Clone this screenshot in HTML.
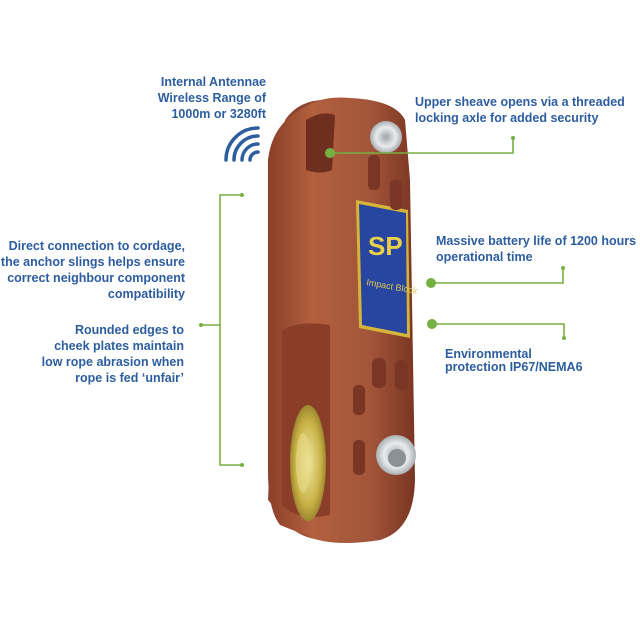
<!DOCTYPE html>
<html><head><style>
body{margin:0;width:640px;height:640px;background:#fff;overflow:hidden;position:relative;font-family:"Liberation Sans",sans-serif}
.t{position:absolute;color:#2c5d9f;font-size:12.5px;line-height:16px;font-weight:bold;white-space:nowrap}
</style></head><body>
<svg width="640" height="640" style="position:absolute;left:0;top:0">
<defs>
<linearGradient id="cu" x1="0" x2="1"><stop offset="0" stop-color="#8a3f28"/><stop offset=".3" stop-color="#b2603e"/><stop offset=".7" stop-color="#a2553a"/><stop offset="1" stop-color="#7a3522"/></linearGradient>
<radialGradient id="gold" cx=".5" cy=".5" r=".6"><stop offset="0" stop-color="#f2e7a0"/><stop offset=".6" stop-color="#c8b248"/><stop offset="1" stop-color="#7d6a1c"/></radialGradient>
<radialGradient id="sil" cx=".5" cy=".5" r=".6"><stop offset="0" stop-color="#9aa3aa"/><stop offset=".5" stop-color="#e8ecee"/><stop offset="1" stop-color="#8a8f92"/></radialGradient>
</defs>
<path d="M285 120 Q300 98 330 100 L360 102 L350 540 Q300 545 285 520 L268 500 Z" fill="#8e4630"/>
<path d="M300 110 Q320 95 350 98 Q395 100 405 120 L410 180 L415 480 Q414 530 380 540 Q330 548 305 535 L280 525 Q268 510 268 470 L268 160 Q272 125 300 110 Z" fill="url(#cu)"/>
<path d="M306 120 Q322 110 335 115 L332 170 Q320 175 306 170 Z" fill="#6e2f1e"/>
<path d="M282 330 Q300 320 330 325 L330 515 Q300 522 282 505 Z" fill="#8a3e28"/>
<ellipse cx="308" cy="463" rx="18" ry="58" fill="url(#gold)"/>
<ellipse cx="303" cy="463" rx="7" ry="30" fill="#e8dc88" opacity=".6"/>
<circle cx="386" cy="137" r="16" fill="url(#sil)"/>
<circle cx="396" cy="455" r="20" fill="url(#sil)"/>
<circle cx="397" cy="458" r="9" fill="#8b9297"/>
<path d="M356 200 L408 210 L410 338 L359 328 Z" fill="#d6b43a"/>
<path d="M359 204 L406 213 L407 334 L362 325 Z" fill="#2846a0"/>
<text x="368" y="255" fill="#e8d04a" font-size="26" font-weight="bold" font-family="Liberation Sans">SP</text>
<text x="366" y="285" fill="#e0c850" font-size="9" transform="rotate(10 366 285)" font-family="Liberation Sans">Impact Block</text>
<rect x="372" y="358" width="14" height="30" rx="6" fill="#7a3624"/>
<rect x="395" y="360" width="13" height="30" rx="6" fill="#7a3624"/>
<rect x="353" y="385" width="12" height="30" rx="5" fill="#7a3624"/>
<rect x="353" y="440" width="12" height="35" rx="5" fill="#7a3624"/>
<rect x="368" y="155" width="12" height="35" rx="5" fill="#7a3624"/>
<rect x="390" y="180" width="12" height="30" rx="5" fill="#7a3624"/>
<g fill="none" stroke="#2c5d9f" stroke-width="3.5" stroke-linecap="round">
<path d="M250 160 A8 8 0 0 1 258 152"/>
<path d="M242 160 A16 16 0 0 1 258 144"/>
<path d="M234 160 A24 24 0 0 1 258 136"/>
<path d="M226 160 A32 32 0 0 1 258 128"/>
</g>
<g stroke="#76b041" stroke-width="1.6" fill="none">
<polyline points="330,153 513,153 513,138"/>
<polyline points="431,283 563,283 563,268"/>
<polyline points="432,324 564,324 564,338"/>
<polyline points="242,195 220,195 220,465 242,465"/>
<line x1="201" y1="325" x2="220" y2="325"/>
</g>
<g fill="#76b041">
<circle cx="330" cy="153" r="5"/><circle cx="513" cy="138" r="2"/>
<circle cx="431" cy="283" r="5"/><circle cx="563" cy="268" r="2"/>
<circle cx="432" cy="324" r="5"/><circle cx="564" cy="338" r="2"/>
<circle cx="242" cy="195" r="2"/><circle cx="242" cy="465" r="2"/><circle cx="201" cy="325" r="2"/>
</g>
</svg>
<div class="t" style="right:374px;top:74px;text-align:right">Internal Antennae<br>Wireless Range of<br>1000m or 3280ft</div>
<div class="t" style="left:415px;top:94px">Upper sheave opens via a threaded<br>locking axle for added security</div>
<div class="t" style="right:455px;top:238px;text-align:right">Direct connection to cordage,<br>the anchor slings helps ensure<br>correct neighbour component<br>compatibility</div>
<div class="t" style="right:456px;top:322px;text-align:right">Rounded edges to<br>cheek plates maintain<br>low rope abrasion when<br>rope is fed ‘unfair’</div>
<div class="t" style="left:436px;top:233px">Massive battery life of 1200 hours<br>operational time</div>
<div class="t" style="left:445px;top:348px;line-height:13px">Environmental<br>protection IP67/NEMA6</div>
</body></html>
